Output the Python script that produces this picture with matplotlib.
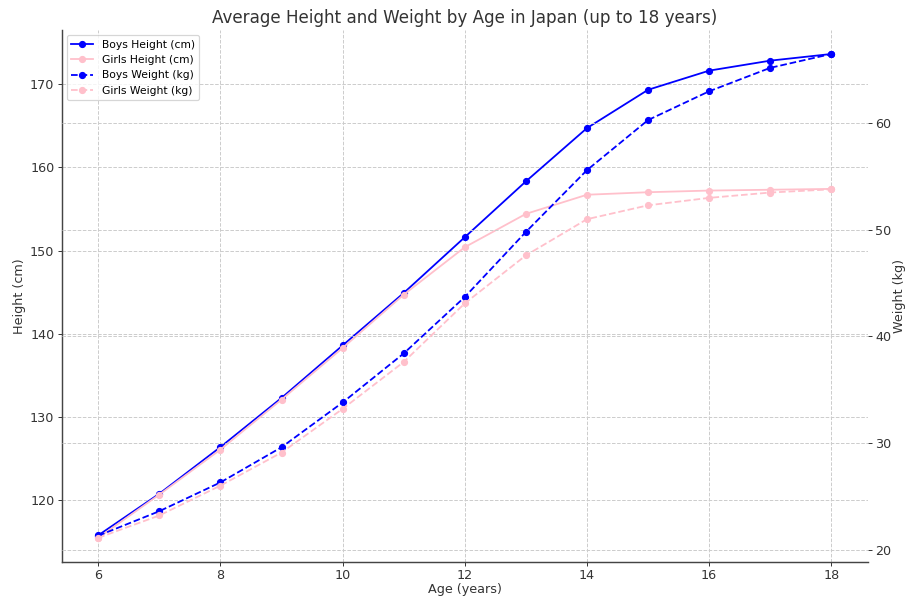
import matplotlib
matplotlib.use("Agg")
import matplotlib.pyplot as plt

ages = [6, 7, 8, 9, 10, 11, 12, 13, 14, 15, 16, 17, 18]
boys_height = [115.8, 120.8, 126.4, 132.3, 138.6, 144.9, 151.6, 158.3, 164.7, 169.3, 171.6, 172.8, 173.6]
girls_height = [115.5, 120.7, 126.1, 132.1, 138.3, 144.7, 150.4, 154.4, 156.7, 157.0, 157.2, 157.3, 157.4]
boys_weight = [21.3, 23.6, 26.3, 29.6, 33.8, 38.4, 43.7, 49.8, 55.6, 60.3, 63.0, 65.2, 66.5]
girls_weight = [21.1, 23.2, 26.0, 29.1, 33.2, 37.6, 43.1, 47.6, 51.0, 52.3, 53.0, 53.5, 53.8]

DPI = 86.4
fig = plt.figure(figsize=(906 / DPI, 596 / DPI), dpi=DPI)
ax1 = fig.add_axes([0.068, 0.057, 0.890, 0.893])
ax2 = ax1.twinx()

grid_kw = dict(color="#cccccc", linestyle="--", linewidth=0.8)
ax1.grid(True, **grid_kw)
ax2.grid(True, axis="y", **grid_kw)

l1, = ax1.plot(ages, boys_height, color="blue", marker="o", markersize=5, linewidth=1.5, label="Boys Height (cm)")
l2, = ax1.plot(ages, girls_height, color="pink", marker="o", markersize=5, linewidth=1.5, label="Girls Height (cm)")
l3, = ax2.plot(ages, boys_weight, color="blue", marker="o", markersize=5, linewidth=1.5, linestyle="--", label="Boys Weight (kg)")
l4, = ax2.plot(ages, girls_weight, color="pink", marker="o", markersize=5, linewidth=1.5, linestyle="--", label="Girls Weight (kg)")

FS = 10.6
ax1.set_xlabel("Age (years)", color="#333333", labelpad=1, fontsize=FS)
ax1.set_ylabel("Height (cm)", color="#333333", labelpad=3, fontsize=FS)
ax2.set_ylabel("Weight (kg)", color="#333333", labelpad=1, fontsize=FS)
ax1.set_title("Average Height and Weight by Age in Japan (up to 18 years)", fontsize=14, color="#333333")

for s in ["top", "right"]:
    ax1.spines[s].set_visible(False)
for s in ax2.spines.values():
    s.set_visible(False)
for s in ["left", "bottom"]:
    ax1.spines[s].set_color("#444444")
    ax1.spines[s].set_linewidth(1.2)

for ax in (ax1, ax2):
    ax.tick_params(colors="#333333", labelsize=FS, length=3, pad=3)
ax1.set_xticks([6, 8, 10, 12, 14, 16, 18])

ax1.legend(handles=[l1, l2, l3, l4], loc="upper left", fontsize=9)

fig.savefig("out.png", dpi=DPI)
